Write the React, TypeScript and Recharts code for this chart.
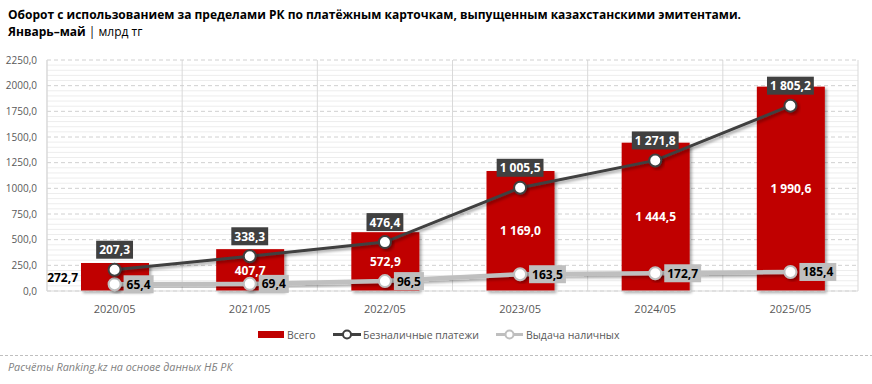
import React from 'react';
import { ComposedChart, Bar, Line, XAxis, YAxis, CartesianGrid, LabelList } from 'recharts';

const categories = ['2020/05', '2021/05', '2022/05', '2023/05', '2024/05', '2025/05'];
const totalValues = [272.7, 407.7, 572.9, 1169.0, 1444.5, 1990.6];
const cashlessValues = [207.3, 338.3, 476.4, 1005.5, 1271.8, 1805.2];
const cashValues = [65.4, 69.4, 96.5, 163.5, 172.7, 185.4];
const yTicks = [0, 250, 500, 750, 1000, 1250, 1500, 1750, 2000, 2250];
const minorTicks = [
  50, 100, 150, 200, 300, 350, 400, 450, 550, 600, 650, 700, 800, 850, 900, 950,
  1050, 1100, 1150, 1200, 1300, 1350, 1400, 1450, 1550, 1600, 1650, 1700,
  1800, 1850, 1900, 1950, 2050, 2100, 2150, 2200,
];

const data = categories.map((c, i) => ({
  name: c,
  total: totalValues[i],
  cashless: cashlessValues[i],
  cash: cashValues[i],
}));

const FONT = '"Open Sans", "Noto Sans", sans-serif';

const fmt = (v: number) => {
  const [i, d] = v.toFixed(1).split('.');
  return i.replace(/\B(?=(\d{3})+(?!\d))/g, ' ') + ',' + d;
};
const axisFmt = (v: number) => v.toFixed(1).replace('.', ',');

let ctx: CanvasRenderingContext2D | null = null;
const textWidth = (s: string, font: string) => {
  try {
    if (!ctx) ctx = document.createElement('canvas').getContext('2d');
    if (ctx) {
      ctx.font = font;
      return ctx.measureText(s).width;
    }
  } catch (e) {}
  return s.length * 6.8;
};

const getXY = (props: any) => {
  const vb = props.viewBox || {};
  return {
    x: props.x ?? vb.x,
    y: props.y ?? vb.y,
    width: props.width ?? vb.width ?? 0,
    height: props.height ?? vb.height ?? 0,
  };
};

const BarLabel = (props: any) => {
  const { x, y, width, height } = getXY(props);
  const t = fmt(Number(props.value));
  const cy = y + height / 2;
  if (props.index === 0) {
    return (
      <text x={x - 3} y={cy} textAnchor="end" dominantBaseline="central" fill="#000" fontWeight="bold" fontSize={12} fontFamily={FONT}>
        {t}
      </text>
    );
  }
  return (
    <text x={x + width / 2} y={cy} textAnchor="middle" dominantBaseline="central" fill="#fff" fontWeight="bold" fontSize={12} fontFamily={FONT}>
      {t}
    </text>
  );
};

const CashlessLabel = (props: any) => {
  const { x, y } = getXY(props);
  const t = fmt(Number(props.value));
  const w = textWidth(t, `bold 12px ${FONT}`) + 6;
  const h = 18;
  const cy = y - 20;
  return (
    <g>
      <rect x={x - w / 2} y={cy - h / 2} width={w} height={h} fill="#404040" />
      <text x={x} y={cy} textAnchor="middle" dominantBaseline="central" fill="#fff" fontWeight="bold" fontSize={12} fontFamily={FONT}>
        {t}
      </text>
    </g>
  );
};

const CashLabel = (props: any) => {
  const { x, y } = getXY(props);
  const t = fmt(Number(props.value));
  const w = textWidth(t, `bold 12px ${FONT}`) + 6;
  const h = 18;
  const left = x + 9;
  return (
    <g>
      <rect x={left} y={y - h / 2} width={w} height={h} fill="#bfbfbf" />
      <text x={left + w / 2} y={y} textAnchor="middle" dominantBaseline="central" fill="#000" fontWeight="bold" fontSize={12} fontFamily={FONT}>
        {t}
      </text>
    </g>
  );
};

const BarShape = (props: any) => {
  const { x, y, width, height, fill } = props;
  return <rect x={x} y={y} width={width} height={height} fill={fill} filter="url(#sh)" />;
};

const makeDot = (stroke: string) => (props: any) => {
  const { cx, cy, index } = props;
  if (cx == null || cy == null) return <g key={index} />;
  return <circle key={index} cx={cx} cy={cy} r={6} fill="#fff" stroke={stroke} strokeWidth={2} filter="url(#sh)" />;
};

const verticalGen = ({ offset }: any) => {
  const n = categories.length;
  const pts: number[] = [];
  for (let i = 0; i <= n; i++) pts.push(offset.left + (offset.width * i) / n);
  return pts;
};

export default function App() {
  return (
    <div style={{ position: 'absolute', left: 0, top: 0, width: 872, height: 384, background: '#fff', fontFamily: FONT }}>
      <svg width={872} height={384} style={{ position: 'absolute', left: 0, top: 0 }}>
        <defs>
          <filter id="sh" x="-20%" y="-20%" width="150%" height="150%">
            <feDropShadow dx="2" dy="2" stdDeviation="1.8" floodColor="#000" floodOpacity="0.35" />
          </filter>
        </defs>
        <text x={8} y={19} fontFamily={FONT} fontSize={12} fontWeight="bold" fill="#000">
          Оборот с использованием за пределами РК по платёжным карточкам, выпущенным казахстанскими эмитентами.
        </text>
        <text x={8} y={35.5} fontFamily={FONT} fontSize={12} fill="#000">
          <tspan fontWeight="bold">Январь–май</tspan>
          <tspan> | млрд тг</tspan>
        </text>
        <line x1={0} x2={872} y1={355.5} y2={355.5} stroke="#bfbfbf" strokeDasharray="3 2" />
        <text x={8} y={371} fontFamily={FONT} fontSize={10.8} fontStyle="italic" fill="#7f7f7f">
          Расчёты Ranking.kz на основе данных НБ РК
        </text>
      </svg>
      <div style={{ position: 'absolute', left: 0, top: 0 }}>
        <ComposedChart width={872} height={384} data={data} margin={{ top: 60, right: 14, bottom: 63, left: 0 }}>
          <CartesianGrid vertical={false} horizontalValues={minorTicks} stroke="#ededed" />
          <CartesianGrid horizontal={false} verticalCoordinatesGenerator={verticalGen} stroke="#d9d9d9" />
          <CartesianGrid vertical={false} stroke="#d0d0d0" strokeDasharray="4 3" />
          <XAxis
            dataKey="name"
            height={30}
            tickLine={false}
            axisLine={{ stroke: '#d9d9d9' }}
            tick={{ fill: '#595959', fontSize: 11, fontFamily: FONT }}
            tickMargin={8}
          />
          <YAxis
            width={47}
            domain={[0, 2250]}
            ticks={yTicks}
            tickFormatter={axisFmt}
            tickLine={false}
            axisLine={{ stroke: '#d9d9d9' }}
            tick={{ fill: '#595959', fontSize: 10, fontFamily: FONT }}
            tickMargin={4}
            interval={0}
          />
          <Bar dataKey="total" fill="#c00000" barSize={68} isAnimationActive={false} shape={BarShape}>
            <LabelList dataKey="total" content={BarLabel} />
          </Bar>
          <Line
            dataKey="cash"
            stroke="#bfbfbf"
            strokeWidth={4.5}
            dot={makeDot('#bfbfbf')}
            activeDot={false}
            isAnimationActive={false}
            filter="url(#sh)"
          >
            <LabelList dataKey="cash" content={CashLabel} />
          </Line>
          <Line
            dataKey="cashless"
            stroke="#404040"
            strokeWidth={3}
            dot={makeDot('#404040')}
            activeDot={false}
            isAnimationActive={false}
            filter="url(#sh)"
          >
            <LabelList dataKey="cashless" content={CashlessLabel} />
          </Line>
        </ComposedChart>
      </div>
      <svg width={872} height={384} style={{ position: 'absolute', left: 0, top: 0, pointerEvents: 'none' }}>
        <rect x={258} y={331} width={26} height={7} fill="#c00000" />
        <text x={287} y={334.5} dominantBaseline="central" fontFamily={FONT} fontSize={10.5} fill="#595959">Всего</text>
        <line x1={333} x2={361} y1={334.5} y2={334.5} stroke="#404040" strokeWidth={3} />
        <circle cx={347} cy={334.5} r={4} fill="#fff" stroke="#404040" strokeWidth={2} />
        <text x={363} y={334.5} dominantBaseline="central" fontFamily={FONT} fontSize={10.5} fill="#595959">Безналичные платежи</text>
        <line x1={496} x2={523} y1={334.5} y2={334.5} stroke="#bfbfbf" strokeWidth={3} />
        <circle cx={509.5} cy={334.5} r={4} fill="#fff" stroke="#bfbfbf" strokeWidth={2} />
        <text x={526} y={334.5} dominantBaseline="central" fontFamily={FONT} fontSize={10.5} fill="#595959">Выдача наличных</text>
      </svg>
    </div>
  );
}
